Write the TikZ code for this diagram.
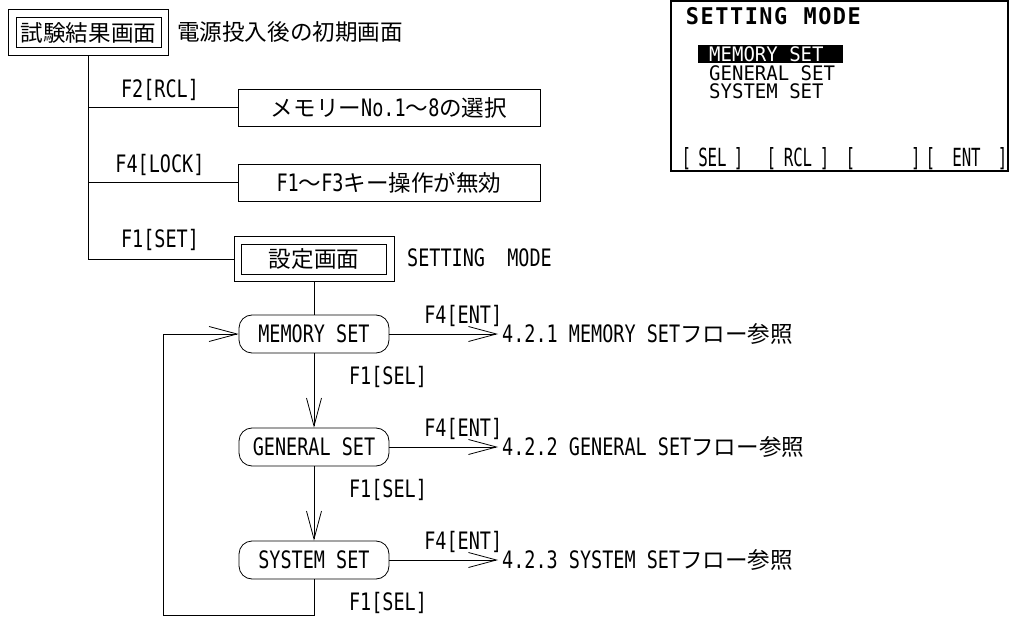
\documentclass[tikz,border=0pt]{standalone}
\usepackage{fontspec}
\setmainfont[FakeStretch=0.77]{DejaVu Sans Mono}
\newfontfamily\jpfont[Scale=0.94]{Noto Sans CJK JP}
\newfontfamily\scrfont[FakeStretch=0.95]{DejaVu Sans Mono}
\newfontfamily\keyfont[FakeStretch=0.63]{DejaVu Sans Mono}
\usetikzlibrary{arrows.meta,fit}
\newcommand\jtext[1]{{\jpfont #1}}
\newcommand\cell[1]{\makebox[14.7pt]{#1}}

\begin{document}
\begin{tikzpicture}[x=1pt,y=-1pt,
    every node/.style = {font=\fontsize{24}{26}\selectfont, inner sep=1pt},
    inbox/.style = {draw, line width=0.8pt, minimum width=145pt, minimum height=30pt},
    outbox/.style = {draw, line width=0.8pt, inner xsep=7pt, inner ysep=7.5pt},
    plainbox/.style = {draw, line width=0.8pt, minimum width=302pt, minimum height=37pt},
    modebox/.style = {draw, line width=0.8pt, rounded corners=13pt,
        minimum width=150pt, minimum height=38pt},
    flow/.style = {line width=0.8pt},
    arr/.style = {flow, -{Straight Barb[length=28pt,width=15pt]}},
    scrtxt/.style = {font=\scrfont\fontsize{20}{21}\selectfont, anchor=west, inner sep=0pt},
    keytxt/.style = {font=\keyfont\fontsize{25}{26}\selectfont, inner sep=0pt}
  ]
  \useasboundingbox (0,0) rectangle (1012,617);

  % start screen and the keys on it
  \node[inbox] (res) at (88.5,32.5) {\jtext{試験結果画面}};
  \node[outbox, fit=(res)] (resout) {};
  \node[anchor=west] (resnote) at (176,32) {\jtext{電源投入後の初期画面}};
  \node[plainbox] (rcl) at (389,107.5) {\jtext{メモリー}No.1\jtext{～}8\jtext{の選択}};
  \node[plainbox] (lock) at (389,182.5) {F1\jtext{～}F3\jtext{キー操作が無効}};
  \node[inbox] (setg) at (314,259) {\jtext{設定画面}};
  \node[outbox, fit=(setg)] (setgout) {};
  \node[anchor=west] (setnote) at (406,258) {SETTING\ \ MODE};

  \draw[flow] (resout.south) |- (setgout.west);
  \draw[flow] (resout.south |- rcl.west) -- (rcl.west);
  \draw[flow] (resout.south |- lock.west) -- (lock.west);
  \node (krcl) at (160,90) {F2[RCL]};
  \node (klock) at (160,165) {F4[LOCK]};
  \node (kset) at (160,240) {F1[SET]};

  % setting modes
  \foreach \m/\t/\y/\n in {mem/MEMORY SET/334/1, gen/GENERAL SET/447/2, sys/SYSTEM SET/560/3}{
      \node[modebox] (\m) at (314,\y) {\t};
      \node[anchor=west, inner sep=4pt] (\m-ref) at (498,\y) {4.2.\n\ \t\jtext{フロー参照}};
      \draw[arr] (\m.east) -- node[pos=0.68, above=7pt, inner sep=0pt] {F4[ENT]} (\m-ref.west);
      \node (\m-sel) at (388,\y+43) {F1[SEL]};
    }
  \draw[flow] (setgout.south) -- (mem.north);
  \draw[arr] (mem) -- (gen);
  \draw[arr] (gen) -- (sys);
  \coordinate (loopcorner) at (163,615);
  \draw[arr] (sys.south) |- (loopcorner) |- (mem.west);

  % display
  \draw[line width=1.5pt] (671,1) rectangle (1008,171);
  \node[font=\scrfont\bfseries\fontsize{23}{24}\selectfont, anchor=west, inner sep=0pt] (scrtitle) at (685,16)
    {\cell S\cell E\cell T\cell T\cell I\cell N\cell G\cell{}\cell M\cell O\cell D\cell E};
  \fill (698,45) rectangle (843,63);
  \node[scrtxt, text=white] (smem) at (709,54) {MEMORY SET};
  \node[scrtxt] (sgen) at (709,73) {GENERAL SET};
  \node[scrtxt] (ssys) at (709,91) {SYSTEM SET};
  \node[keytxt] (ksel) at (712.5,159) {[\makebox[43pt]{SEL}]};
  \node[keytxt] (krclkey) at (798,159) {[\makebox[44pt]{RCL}]};
  \node[keytxt] (kblank) at (883,159) {[\makebox[56pt]{}]};
  \node[keytxt] (kent) at (966.5,159) {[\makebox[63pt]{ENT}]};

\end{tikzpicture}
\end{document}
